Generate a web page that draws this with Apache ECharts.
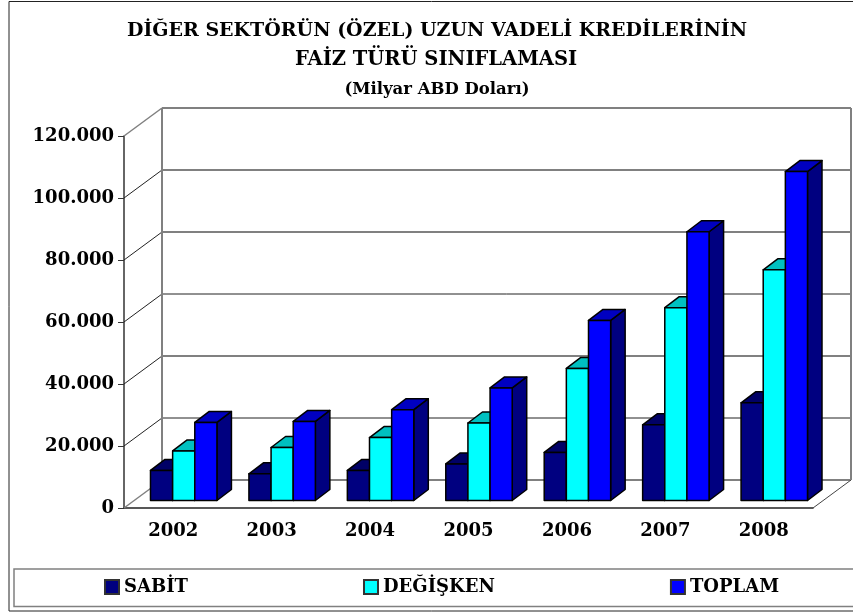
<!DOCTYPE html>
<html>
<head>
<meta charset="utf-8">
<style>
  html, body { margin: 0; padding: 0; background: #fff; }
  #main { width: 853px; height: 613px; }
</style>
<script src="https://cdn.jsdelivr.net/npm/echarts@6/dist/echarts.min.js"></script>
</head>
<body>
<div id="main"></div>
<script>
var years = ['2002', '2003', '2004', '2005', '2006', '2007', '2008'];
var sabit = [9700, 8600, 9700, 11800, 15500, 24400, 31500];
var degisken = [16000, 17100, 20300, 25000, 42600, 62200, 74400];
var toplam = [25200, 25500, 29300, 36300, 58100, 86700, 106100];
var yTicks = [0, 20000, 40000, 60000, 80000, 100000, 120000];

var font = '"DejaVu Serif"';
var wallDx = 38, wallDy = 28;   // depth of the chart box
var barDx = 14.5, barDy = 11;   // depth of a bar
var shiftDx = 10.5, shiftDy = 7.5; // bars stand a bit behind the front plane

function wallItem(params, api) {
  var v = api.value(1);
  var g = params.coordSys;
  var y = api.coord([0, v])[1];
  var left = g.x, right = g.x + g.width;
  var thin = v === 20000 || v === 60000;
  var st = { stroke: thin ? '#222' : '#808080', lineWidth: thin ? 1 : 2, fill: null };
  var diag = { stroke: (v === 0 || v === 120000) ? '#808080' : '#222', lineWidth: (v === 0 || v === 120000) ? 1.5 : 1, fill: null };
  var kids = [
    { type: 'line', shape: { x1: left, y1: y, x2: left + wallDx, y2: y - wallDy }, style: diag },
    { type: 'line', shape: { x1: left + wallDx, y1: y - wallDy, x2: right + wallDx, y2: y - wallDy }, style: st }
  ];
  if (v === 0) {
    kids.push({ type: 'line', shape: { x1: right, y1: y, x2: right + wallDx, y2: y - wallDy }, style: { stroke: '#444', lineWidth: 1, fill: null } });
  }
  if (v === 120000) {
    var y0 = api.coord([0, 0])[1];
    kids.push({ type: 'line', shape: { x1: left + wallDx, y1: y - wallDy, x2: left + wallDx, y2: y0 - wallDy }, style: { stroke: '#808080', lineWidth: 2, fill: null } });
    kids.push({ type: 'line', shape: { x1: right + wallDx, y1: y - wallDy, x2: right + wallDx, y2: y0 - wallDy }, style: { stroke: '#808080', lineWidth: 2, fill: null } });
  }
  return { type: 'group', children: kids };
}

function barSeries(name, data, idx, front, top, side) {
  return {
    name: name,
    type: 'custom',
    z: 3,
    clip: false,
    itemStyle: { color: front, borderColor: '#333', borderWidth: 1.5 },
    encode: { x: 0, y: 1 },
    data: data.map(function (v, i) { return [i, v]; }),
    renderItem: function (params, api) {
      var base = api.coord([api.value(0), 0]);
      var head = api.coord([api.value(0), api.value(1)]);
      var w = api.size([1, 0])[0] * 0.225;
      var x1 = base[0] + shiftDx + (idx - 1.5) * w;
      var x2 = x1 + w;
      var yb = base[1] - shiftDy;
      var yt = head[1] - shiftDy;
      var line = { stroke: '#000', lineWidth: 1.5, lineJoin: 'round' };
      return {
        type: 'group',
        children: [
          { type: 'polygon', shape: { points: [[x2, yb], [x2 + barDx, yb - barDy], [x2 + barDx, yt - barDy], [x2, yt]] }, style: Object.assign({ fill: side }, line) },
          { type: 'polygon', shape: { points: [[x1, yt], [x1 + barDx, yt - barDy], [x2 + barDx, yt - barDy], [x2, yt]] }, style: Object.assign({ fill: top }, line) },
          { type: 'rect', shape: { x: x1, y: yt, width: w, height: yb - yt }, style: Object.assign({ fill: front }, line) }
        ]
      };
    }
  };
}

var myChart = echarts.init(document.getElementById('main'));
function titleStyle(size) {
  return { fontFamily: font, fontWeight: 'bold', fontSize: size, color: '#000' };
}
var option = {
  animation: false,
  backgroundColor: '#fff',
  title: [
    { text: 'DİĞER SEKTÖRÜN (ÖZEL) UZUN VADELİ KREDİLERİNİN', left: 437, top: 22, textAlign: 'center', padding: 0, textStyle: titleStyle(19) },
    { text: 'FAİZ TÜRÜ SINIFLAMASI', left: 436, top: 50, textAlign: 'center', padding: 0, textStyle: titleStyle(19.5) },
    { text: '(Milyar ABD Doları)', left: 437, top: 81, textAlign: 'center', padding: 0, textStyle: titleStyle(16.5) }
  ],
  graphic: [
    { type: 'rect', z: -1, shape: { x: 9, y: 1.5, width: 870, height: 609.5 }, style: { fill: '#fff', stroke: '#222', lineWidth: 1 } },
    { type: 'rect', z: -1, shape: { x: 14, y: 569, width: 870, height: 37.5 }, style: { fill: '#fff', stroke: '#808080', lineWidth: 1.5 } }
  ],
  legend: {
    data: ['SABİT', 'DEĞİŞKEN', 'TOPLAM'],
    left: 104,
    top: 578,
    padding: 0,
    itemGap: 175,
    itemWidth: 14,
    itemHeight: 14,
    icon: 'rect',
    textStyle: { fontFamily: font, fontWeight: 'bold', fontSize: 18, color: '#000' }
  },
  grid: { left: 124, right: 40, top: 136, bottom: 105 },
  xAxis: {
    type: 'category',
    data: years,
    axisLine: { lineStyle: { color: '#222', width: 1.5 } },
    axisTick: { length: 6, lineStyle: { color: '#222' } },
    axisLabel: { fontFamily: font, fontWeight: 'bold', fontSize: 18, color: '#000', margin: 14 }
  },
  yAxis: {
    type: 'value',
    min: 0,
    max: 120000,
    interval: 20000,
    splitLine: { show: false },
    axisLine: { show: true, lineStyle: { color: '#333', width: 1.5 } },
    axisTick: { show: true, length: 6, lineStyle: { color: '#333' } },
    axisLabel: {
      fontFamily: font, fontWeight: 'bold', fontSize: 18, color: '#000', margin: 10, padding: [4, 0, 0, 0],
      formatter: function (v) { return String(v).replace(/\B(?=(\d{3})+$)/g, '.'); }
    }
  },
  series: [
    {
      name: 'wall',
      type: 'custom',
      z: 1,
      clip: false,
      silent: true,
      encode: { x: 0, y: 1 },
      data: yTicks.map(function (v) { return [0, v]; }),
      renderItem: wallItem
    },
    barSeries('SABİT', sabit, 0, '#000080', '#000066', '#000066'),
    barSeries('DEĞİŞKEN', degisken, 1, '#00FFFF', '#00C0C0', '#00C0C0'),
    barSeries('TOPLAM', toplam, 2, '#0000FF', '#0000C0', '#000080')
  ]
};
myChart.setOption(option);
</script>
</body>
</html>
